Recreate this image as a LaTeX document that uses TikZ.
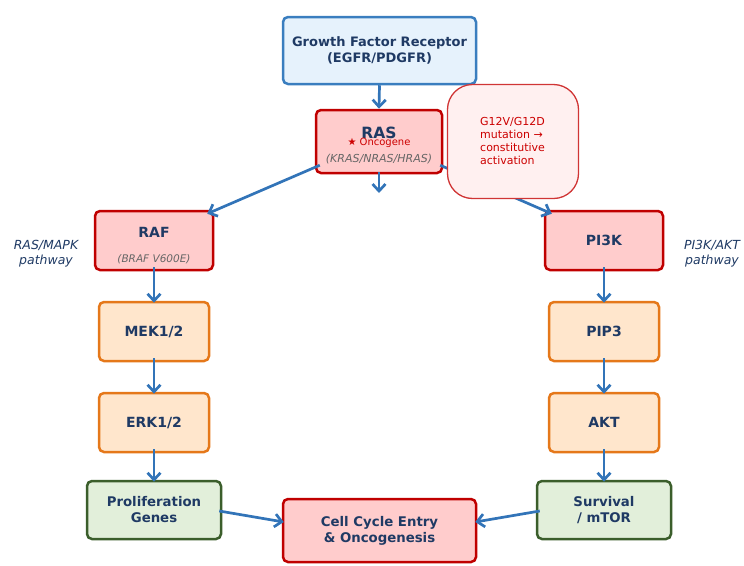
\documentclass[tikz,border=0pt]{standalone}
\usepackage{fontspec}
\setmainfont{DejaVu Sans}
\usetikzlibrary{arrows.meta,calc}
\definecolor{navy}{HTML}{1F3A64}
\definecolor{gfrB}{HTML}{3A7EBF}
\definecolor{gfrF}{HTML}{E6F2FC}
\definecolor{redB}{HTML}{C00000}
\definecolor{redF}{HTML}{FFCCCC}
\definecolor{orB}{HTML}{E5781A}
\definecolor{orF}{HTML}{FFE6CC}
\definecolor{grB}{HTML}{3B5E2B}
\definecolor{grF}{HTML}{E2EFDA}
\definecolor{calB}{HTML}{D03535}
\definecolor{calF}{HTML}{FFF0F0}
\definecolor{calT}{HTML}{CC0000}
\definecolor{arrc}{HTML}{3274B8}
\definecolor{subg}{HTML}{666666}
\tikzset{
  box/.style={draw, line width=2.5pt, rounded corners=5pt, align=center, text=navy, inner sep=0pt},
  bluebox/.style={box, draw=gfrB, fill=gfrF},
  redbox/.style={box, draw=redB, fill=redF},
  orbox/.style={box, draw=orB, fill=orF},
  grbox/.style={box, draw=grB, fill=grF},
  stepfont/.style={font=\bfseries\fontsize{14}{17}\selectfont},
  endfont/.style={font=\bfseries\fontsize{13.3}{16}\selectfont},
  subtxt/.style={font=\itshape\fontsize{10.5}{12}\selectfont, text=subg, inner sep=0pt, anchor=base},
  sidelab/.style={font=\itshape\fontsize{12.5}{15}\selectfont, text=navy, align=center},
  arr/.style={draw=arrc, line width=2.7pt, -{Straight Barb[length=7pt,width=13pt]}}
}
\begin{document}
\begin{tikzpicture}[x=1pt,y=-1pt]
\useasboundingbox (0,0) rectangle (744,565);

% boxes
\node[bluebox, minimum width=193pt, minimum height=67pt, font=\bfseries\fontsize{13}{15.5}\selectfont] (gfr) at (379.5,50.5) {Growth Factor Receptor\\(EGFR/PDGFR)};

\node[redbox, minimum width=126pt, minimum height=63pt] (ras) at (379,141.5) {};
\node[font=\bfseries\fontsize{15.5}{18}\selectfont, text=navy, inner sep=0pt, anchor=base] (rast) at (379,138.5) {RAS};
\node[font=\fontsize{10}{12}\selectfont, text=calT, inner sep=0pt, anchor=base] (onc) at (379,145.5) {★ Oncogene};
\node[subtxt, font=\itshape\fontsize{11}{12}\selectfont] (rass) at (379,162.5) {(KRAS/NRAS/HRAS)};

\node[redbox, minimum width=118pt, minimum height=59pt] (raf) at (154,240.5) {};
\node[stepfont, text=navy, inner sep=0pt] (raft) at (154,232) {RAF};
\node[subtxt] (rafs) at (154,262.5) {(BRAF V600E)};

\node[redbox, minimum width=118pt, minimum height=59pt, stepfont] (pi3k) at (604,240.5) {PI3K};

\node[orbox, minimum width=110pt, minimum height=59pt, stepfont] (mek) at (154,331.5) {MEK1/2};
\node[orbox, minimum width=110pt, minimum height=59pt, stepfont] (erk) at (154,422.5) {ERK1/2};
\node[orbox, minimum width=110pt, minimum height=59pt, stepfont] (pip3) at (604,331.5) {PIP3};
\node[orbox, minimum width=110pt, minimum height=59pt, stepfont] (akt) at (604,422.5) {AKT};

\node[grbox, minimum width=134pt, minimum height=58pt, endfont] (prolif) at (154,510) {Proliferation\\Genes};
\node[grbox, minimum width=134pt, minimum height=58pt, endfont] (surv) at (604,510) {Survival\\/ mTOR};
\node[redbox, minimum width=193pt, minimum height=63pt, endfont] (cell) at (379.5,530.5) {Cell Cycle Entry\\\& Oncogenesis};

% side labels
\node[sidelab] (lmapk) at (46,254) {RAS/MAPK\\pathway};
\node[sidelab] (lakt) at (712,254) {PI3K/AKT\\pathway};

% arrows
\coordinate (stub) at (379,193);
\draw[arr] (gfr.south) -- (ras.north);
\draw[arr, shorten <=-2pt] (ras.south) -- (stub);
\draw[arr] ($(ras.south west)+(5,-9)$) -- ($(raf.north east)+(-7,4)$);
\draw[arr] ($(ras.south east)+(-3,-9)$) -- ($(pi3k.north west)+(8,4)$);
\draw[arr, shorten <=-4pt, shorten >=-2pt] (raf.south) -- (mek.north);
\draw[arr, shorten <=-4pt, shorten >=-2pt] (mek.south) -- (erk.north);
\draw[arr, shorten <=-4pt, shorten >=-2pt] (erk.south) -- (prolif.north);
\draw[arr, shorten <=-4pt, shorten >=-2pt] (pi3k.south) -- (pip3.north);
\draw[arr, shorten <=-4pt, shorten >=-2pt] (pip3.south) -- (akt.north);
\draw[arr, shorten <=-4pt, shorten >=-2pt] (akt.south) -- (surv.north);
\draw[arr] ($(prolif.east)+(-3,1)$) -- ($(cell.west)+(2,-8.5)$);
\draw[arr] ($(surv.west)+(4,1)$) -- ($(cell.east)+(-2,-8.5)$);

% callout
\node[draw=calB, fill=calF, line width=1.3pt, rounded corners=25pt, minimum width=131pt, minimum height=114pt, inner sep=0pt] (call) at (513,141.5) {};
\node[text=calT, align=left, font=\fontsize{11}{12.7}\selectfont, anchor=west, inner sep=0pt] (callt) at (480,141) {G12V/G12D\\mutation →\\constitutive\\activation};
\end{tikzpicture}
\end{document}
